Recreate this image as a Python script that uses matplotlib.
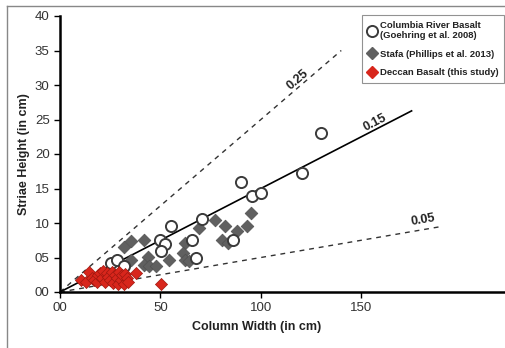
import matplotlib
matplotlib.use("Agg")
import matplotlib.pyplot as plt
from matplotlib.lines import Line2D
import numpy as np

plt.rcParams['font.family'] = ['Liberation Sans', 'DejaVu Sans']

# Columbia River Basalt (Goehring et al. 2008)
crb_w = [25.4, 28.6, 32.1, 49.9, 52.4, 50.2, 55.2, 65.6, 67.6, 70.6, 86.1, 90.3, 95.4, 100.0, 120.4, 130.0]
crb_h = [4.2, 4.7, 3.8, 7.5, 7.0, 6.0, 9.5, 7.5, 5.0, 10.6, 7.6, 16.0, 13.9, 14.4, 17.3, 23.0]

# Stafa (Phillips et al. 2013)
stafa_w = [31.9, 35.2, 41.9, 35.4, 43.7, 41.9, 44.5, 47.7, 54.3, 62.3, 61.1, 62.3, 64.3,
           69.3, 77.2, 82.2, 80.6, 83.6, 88.3, 93.0, 95.3]
stafa_h = [6.5, 7.4, 7.5, 4.6, 5.1, 3.9, 3.7, 3.8, 4.6, 7.1, 5.7, 4.6, 4.5,
           9.3, 10.4, 9.6, 7.6, 7.1, 8.9, 9.6, 11.4]

# Deccan Basalt (this study)
dec_w = [10.5, 13.0, 14.5, 16.0, 17.0, 18.5, 19.0, 20.0, 21.0, 21.5, 22.5, 23.5, 24.0, 25.0,
         26.0, 26.5, 27.5, 28.5, 29.0, 29.5, 30.5, 31.0, 32.0, 32.5, 33.5, 34.0, 38.0, 50.5]
dec_h = [1.8, 1.5, 2.9, 2.1, 1.7, 1.4, 2.4, 2.8, 2.0, 3.0, 1.4, 2.7, 2.2, 1.7,
         2.9, 1.3, 2.4, 2.0, 1.1, 2.9, 1.7, 2.4, 1.2, 2.6, 2.0, 1.5, 2.8, 1.1]

# reference ratio lines
ratios = [0.25, 0.15, 0.05]
ratio_ends = [140, 175, 190]
ratio_styles = ['--', '-', '--']
label_pos = [(118.5, 30.8), (157, 24.6), (180.5, 10.4)]

fig = plt.figure(figsize=(5.06, 3.48), dpi=100)
ax = fig.add_axes([60 / 506, 56 / 348, 446 / 506, 276 / 348])

for r, xe, ls, (lx, ly) in zip(ratios, ratio_ends, ratio_styles, label_pos):
    xs = np.array([0, xe])
    if ls == '--':
        ax.plot(xs, r * xs, color='#333333', lw=1.0, ls=(0, (3.5, 3.5)), zorder=1)
    else:
        ax.plot(xs, r * xs, color='black', lw=1.2, zorder=1)
    ang = np.degrees(np.arctan(r * (276 / 40) / (446 / 222)))
    ax.text(lx, ly, f'{r:.2f}', rotation=ang, ha='center', va='center',
            fontsize=9, fontweight='bold', color='#222222', rotation_mode='anchor')

ax.scatter(stafa_w, stafa_h, marker='D', s=42, color='#606060', edgecolor='#505050',
           linewidth=0.5, zorder=2)
ax.scatter(crb_w, crb_h, marker='o', s=64, facecolor='white', edgecolor='#3a3a3a',
           linewidth=1.4, zorder=3)
ax.scatter(dec_w, dec_h, marker='D', s=38, color='#d8261c', edgecolor='#a01810',
           linewidth=0.5, zorder=4)

ax.set_xlim(0, 222)
ax.set_ylim(0, 40)
ax.set_xticks([0, 50, 100, 150])
ax.set_xticklabels(['00', '50', '100', '150'])
ax.set_yticks(range(0, 41, 5))
ax.set_yticklabels([f'{v:02d}' for v in range(0, 41, 5)])
ax.tick_params(labelsize=9.5, labelcolor='#333333', length=4, width=1, direction='out')
ax.tick_params(axis='x', pad=3)

for s in ['top', 'right']:
    ax.spines[s].set_visible(False)
ax.spines['left'].set_linewidth(1.8)
ax.spines['bottom'].set_linewidth(1.8)

ax.set_xlabel('Column Width (in cm)', fontsize=9, fontweight='bold', color='#222222')
ax.xaxis.set_label_coords((257 - 60) / 446, -0.105)
ax.set_ylabel('Striae Height (in cm)', fontsize=9, fontweight='bold', color='#222222')
ax.yaxis.set_label_coords(-0.068, 0.5)

handles = [
    Line2D([], [], marker='o', ls='none', markersize=8, markerfacecolor='white',
           markeredgecolor='#3a3a3a', markeredgewidth=1.4),
    Line2D([], [], marker='D', ls='none', markersize=6, color='#606060'),
    Line2D([], [], marker='D', ls='none', markersize=6, color='#d8261c'),
]
labels = ['Columbia River Basalt\n(Goehring et al. 2008)', 'Stafa (Phillips et al. 2013)',
          'Deccan Basalt (this study)']
leg = ax.legend(handles, labels, loc='upper right', bbox_to_anchor=(444 / 446, 1.0 + 1 / 276),
                borderaxespad=0, fontsize=6.8, frameon=True, fancybox=False,
                handletextpad=0.3, handlelength=1.0, borderpad=0.6, labelspacing=1.0)
leg.get_frame().set_edgecolor('#777777')
leg.get_frame().set_linewidth(0.8)
for t in leg.get_texts():
    t.set_fontweight('bold')
    t.set_color('#222222')

# frame of the original figure
fig.add_artist(Line2D([7 / 506, 1], [1 - 6 / 348] * 2, color='#888888', lw=1, transform=fig.transFigure))
fig.add_artist(Line2D([7 / 506] * 2, [0, 1 - 6 / 348], color='#888888', lw=1, transform=fig.transFigure))

fig.savefig('out.png', dpi=100)
